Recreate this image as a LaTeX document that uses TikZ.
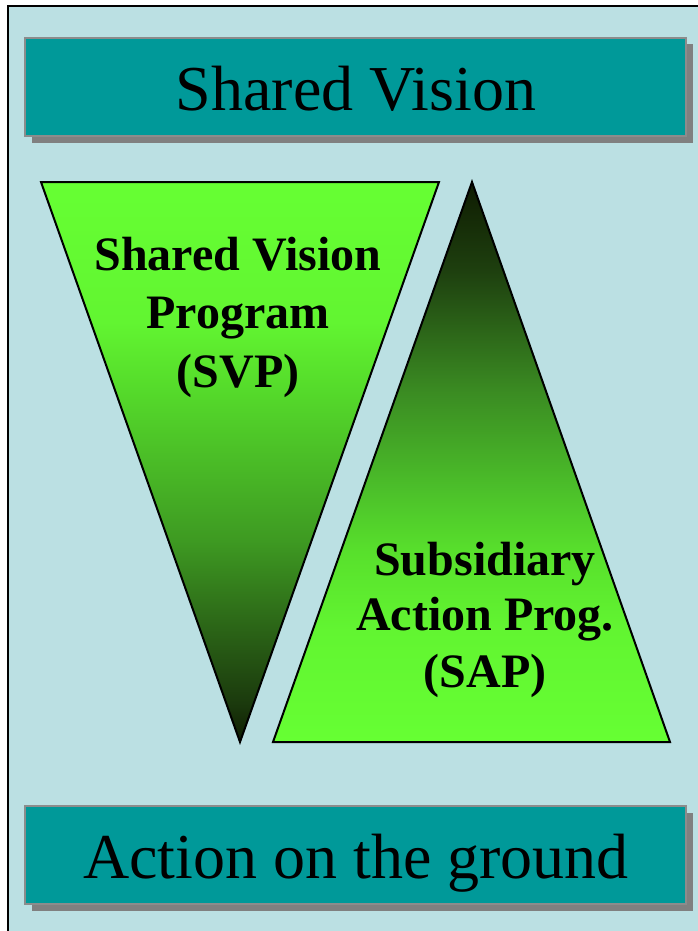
\documentclass[tikz,border=0pt]{standalone}
\usepackage{fontspec}
\setmainfont{Liberation Serif}
\usetikzlibrary{shadows}
\definecolor{bgblue}{HTML}{BBE0E3}
\definecolor{boxteal}{HTML}{009999}
\definecolor{boxedge}{HTML}{8C8C8C}
\definecolor{shadowgray}{HTML}{808080}
\definecolor{ga}{HTML}{66FF33}
\definecolor{gb}{HTML}{62F531}
\definecolor{gc}{HTML}{56DD2B}
\definecolor{gd}{HTML}{3E9A22}
\definecolor{ge}{HTML}{2D6A18}
\definecolor{gf}{HTML}{1B3A0D}
\definecolor{gg}{HTML}{0F1C02}
\definecolor{rb}{HTML}{1E400F}
\definecolor{rc}{HTML}{3A8A22}
\definecolor{rd}{HTML}{4CC02A}
\definecolor{re}{HTML}{58E02C}
\pgfdeclareverticalshading{svpshade}{100bp}{color(0bp)=(gg); color(25bp)=(gg); color(28.5bp)=(gf); color(36bp)=(ge); color(43bp)=(gd); color(57bp)=(gc); color(62.5bp)=(gb); color(75bp)=(ga); color(100bp)=(ga)}
\pgfdeclareverticalshading{sapshade}{100bp}{color(0bp)=(ga); color(25bp)=(ga); color(35bp)=(gb); color(42bp)=(re); color(47.5bp)=(rd); color(56.5bp)=(rc); color(67bp)=(rb); color(75bp)=(gg); color(100bp)=(gg)}
\tikzset{
  banner/.style={draw=boxedge, line width=1.5pt, fill=boxteal, minimum width=661pt, minimum height=98pt, inner sep=0pt,
    drop shadow={shadow xshift=6.5pt, shadow yshift=-6.5pt, fill=shadowgray, opacity=1}},
  bannertext/.style={anchor=base, inner sep=0pt, font=\fontsize{64}{70}\selectfont},
  tritext/.style={anchor=base, inner sep=0pt, font=\fontsize{48}{56}\selectfont\bfseries},
  tri/.style={draw=black, line width=2pt, line join=miter}
}
\begin{document}
\begin{tikzpicture}[x=1pt,y=-1pt]
\useasboundingbox (0,0) rectangle (698,931);
\clip (0,0) rectangle (698,931);
\fill[white] (0,0) rectangle (698,931);
\fill[bgblue] (8,6) rectangle (720,950);
\draw[line width=2pt] (8,950) -- (8,6) -- (720,6);

% banners
\node[banner] (topbox) at (355.5,87) {};
\node[bannertext] (toptext) at (356,111) {Shared Vision};
\node[banner] (botbox) at (355.5,855) {};
\node[bannertext] (bottext) at (356,878) {Action on the ground};

% triangles
\coordinate (svpA) at (41,182);
\coordinate (svpB) at (439,182);
\coordinate (svpC) at (240,742);
\shadedraw[tri, shading=svpshade] (svpA) -- (svpB) -- (svpC) -- cycle;
\coordinate (sapA) at (472,182);
\coordinate (sapB) at (670,742);
\coordinate (sapC) at (273,742);
\shadedraw[tri, shading=sapshade] (sapA) -- (sapB) -- (sapC) -- cycle;

% texts
\node[tritext] (svp1) at (238,270) {Shared Vision};
\node[tritext] (svp2) at (238,328) {Program};
\node[tritext] (svp3) at (238,387) {(SVP)};
\node[tritext] (sap1) at (485,575) {Subsidiary};
\node[tritext] (sap2) at (485,630) {Action Prog.};
\node[tritext] (sap3) at (485,687) {(SAP)};
\end{tikzpicture}
\end{document}
